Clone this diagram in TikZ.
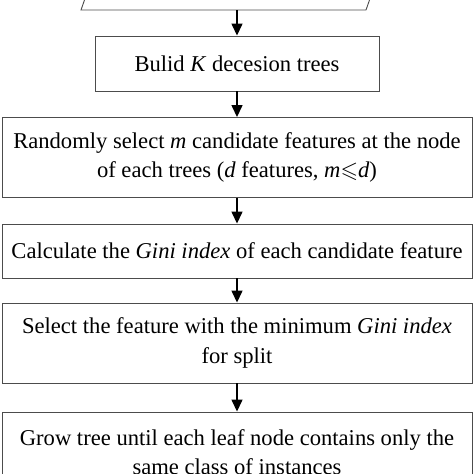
\documentclass[tikz,border=0pt]{standalone}
\usepackage{amssymb}
\usepackage{fontspec}
\setmainfont{Liberation Serif}
\usetikzlibrary{arrows.meta}

\begin{document}
\begin{tikzpicture}[x=1pt, y=-1pt,
        box/.style={draw=black!70, line width=0.9pt, align=center, inner sep=0pt,
            font=\fontsize{22.6}{29.5}\selectfont},
        flow/.style={-{Triangle[length=12pt, width=11pt]}, line width=1.4pt}]
        \useasboundingbox (0, 0) rectangle (474, 474);

        % Input section (cut at the top)
        \draw[draw=black!70, line width=0.9pt] (88, -10) -- (81, 10) -- (366, 10) -- (373, -10);
        \coordinate (input) at (237, 10);

        % Steps of the forest
        \node[box, minimum width=284pt, minimum height=55pt] (trees) at (237, 63.5)
            {Bulid \textit{K} decesion trees};
        \node[box, minimum width=470pt, minimum height=80pt] (select) at (237, 157.5)
            {Randomly select \textit{m} candidate features at the node\\
             of each trees (\textit{d} features, \textit{m}$\leqslant$\textit{d})};
        \node[box, minimum width=470pt, minimum height=54pt] (gini) at (237, 251)
            {Calculate the \textit{Gini index} of each candidate feature};
        \node[box, minimum width=470pt, minimum height=80pt] (split) at (237, 343)
            {Select the feature with the minimum \textit{Gini index}\\ for split};
        \node[box, minimum width=470pt, minimum height=80pt] (grow) at (237, 452)
            {Grow tree until each leaf node contains only the\\ same class of instances};

        % Arrows between the steps
        \draw[flow] (input) -- (trees);
        \draw[flow] (trees) -- (select);
        \draw[flow] (select) -- (gini);
        \draw[flow] (gini) -- (split);
        \draw[flow] (split) -- (grow);
    \end{tikzpicture}
\end{document}
